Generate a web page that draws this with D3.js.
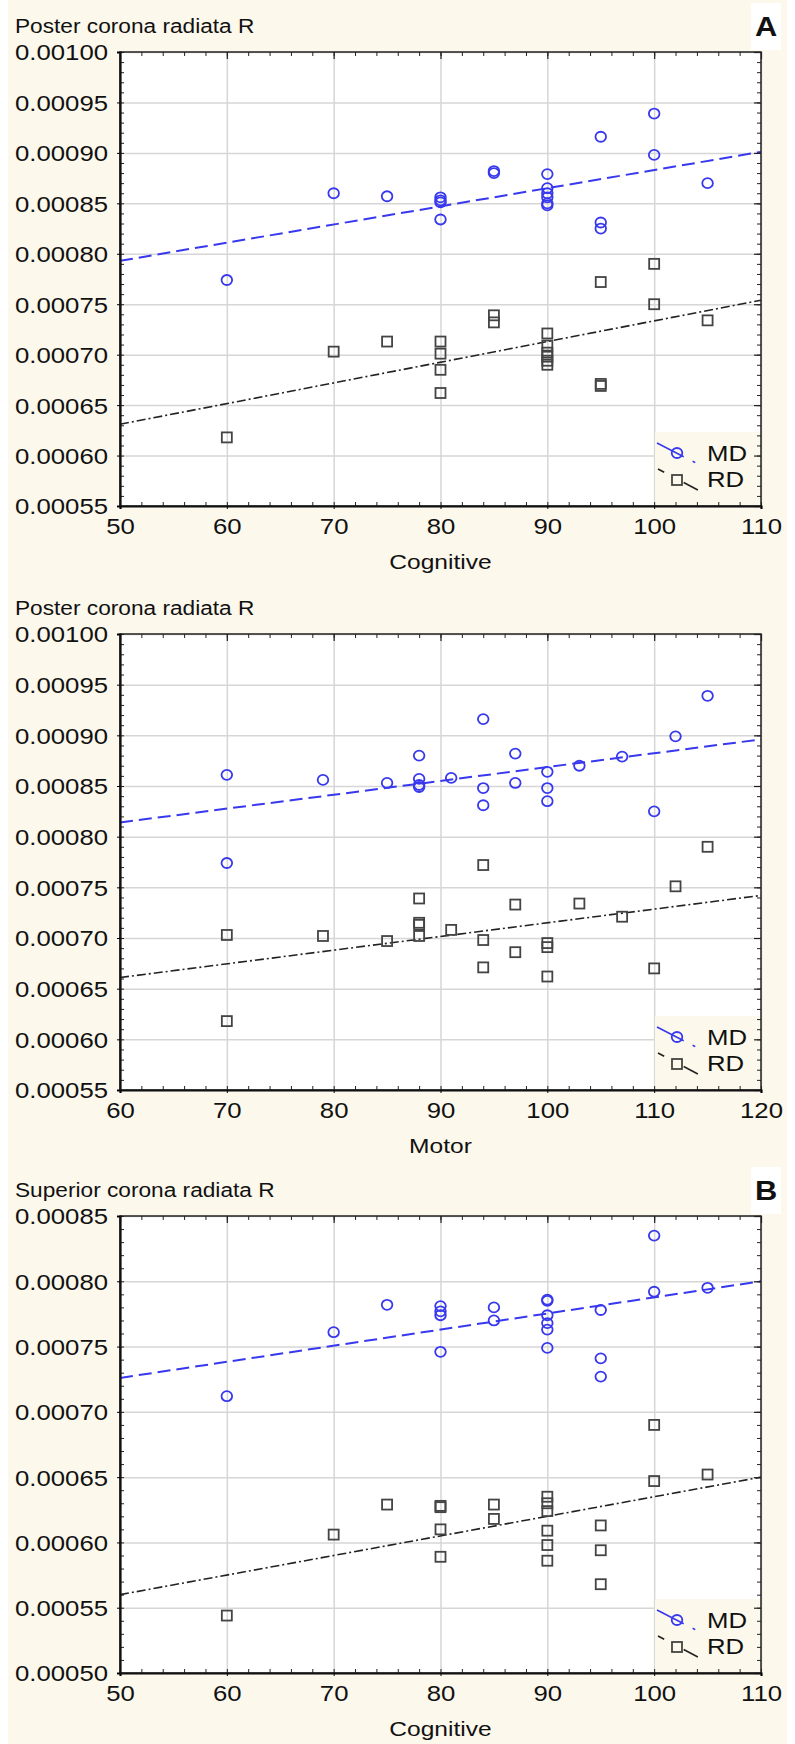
<!DOCTYPE html>
<html>
<head>
<meta charset="utf-8">
<script src="https://cdn.jsdelivr.net/npm/d3@7"></script>
<style>
  body { margin: 0; background: #fff; }
  svg { display: block; font-family: "Liberation Sans", Arial, sans-serif; }
</style>
</head>
<body>
<script>
// data
var cogX = [60, 70, 75, 80, 80, 80, 80, 85, 85, 90, 90, 90, 90, 90, 90, 95, 95, 95, 100, 100, 105];
var postCogMD = [0.000774, 0.000860, 0.000857, 0.000856, 0.000853, 0.000851, 0.000834, 0.000882, 0.000880,
  0.000879, 0.000865, 0.000860, 0.000856, 0.000850, 0.000848, 0.000916, 0.000831, 0.000825, 0.000939, 0.000898, 0.000870];
var postCogRD = [0.000618, 0.000703, 0.000713, 0.000713, 0.000701, 0.000685, 0.000662, 0.000739, 0.000732,
  0.000721, 0.000709, 0.000702, 0.000698, 0.000694, 0.000690, 0.000772, 0.000671, 0.000669, 0.000790, 0.000750, 0.000734];
var postCogFitX = [50, 110];
var postCogMDFit = [0.000793, 0.000901];
var postCogRDFit = [0.000631, 0.000754];

var motorX = [70, 70, 79, 85, 88, 88, 88, 88, 91, 94, 94, 94, 97, 97, 100, 100, 100, 103, 107, 110, 112, 115];
var postMotMD = [0.000861, 0.000774, 0.000856, 0.000853, 0.000880, 0.000857, 0.000851, 0.000849, 0.000858, 0.000916, 0.000848,
  0.000831, 0.000882, 0.000853, 0.000864, 0.000848, 0.000835, 0.000870, 0.000879, 0.000825, 0.000899, 0.000939];
var postMotRD = [0.000703, 0.000618, 0.000702, 0.000697, 0.000739, 0.000715, 0.000713, 0.000702, 0.000708, 0.000772, 0.000698,
  0.000671, 0.000733, 0.000686, 0.000695, 0.000691, 0.000662, 0.000734, 0.000721, 0.000670, 0.000751, 0.000790];
var postMotFitX = [60, 120];
var postMotMDFit = [0.000814, 0.000896];
var postMotRDFit = [0.000661, 0.000742];

var supCogMD = [0.000712, 0.000761, 0.000782, 0.000781, 0.000777, 0.000774, 0.000746, 0.000780, 0.000770,
  0.000786, 0.000785, 0.000774, 0.000768, 0.000763, 0.000749, 0.000778, 0.000741, 0.000727, 0.000835, 0.000792, 0.000795];
var supCogRD = [0.000544, 0.000606, 0.000629, 0.000628, 0.000627, 0.000610, 0.000589, 0.000629, 0.000618,
  0.000635, 0.000630, 0.000624, 0.000609, 0.000598, 0.000586, 0.000613, 0.000594, 0.000568, 0.000690, 0.000647, 0.000652];
var supCogFitX = [50, 110];
var supCogMDFit = [0.000726, 0.000800];
var supCogRDFit = [0.000560, 0.000650];

var legendNames = ["MD", "RD"];

var W = 795, H = 1744;
var left = 120, right = 761;
var stretch = 1.17;   // text in the source looks horizontally stretched
var mdColor = "#3838ee", rdColor = "#444";

var svg = d3.select("body").append("svg")
    .attr("width", W)
    .attr("height", H);

// cream page
svg.append("rect")
    .attr("x", 8).attr("y", 0)
    .attr("width", 779).attr("height", H)
    .attr("fill", "#fcf8ec");

function sText(g, x, y, str, size, anchor, weight, sx) {
  return g.append("text")
      .attr("transform", "translate(" + x + "," + y + ") scale(" + (sx || stretch) + ",1)")
      .attr("text-anchor", anchor || "start")
      .attr("font-size", size)
      .attr("font-weight", weight || "normal")
      .attr("fill", "#111")
      .text(str);
}

function panel(cfg) {
  var top = cfg.top, bottom = cfg.bottom;
  var g = svg.append("g");
  var x = d3.scaleLinear().domain(cfg.xDomain).range([left, right]);
  var y = d3.scaleLinear().domain(cfg.yDomain).range([bottom, top]);
  var xMajor = d3.range(cfg.xDomain[0], cfg.xDomain[1] + 0.1, 10);
  var xMinor = d3.range(cfg.xDomain[0], cfg.xDomain[1] + 0.1, 2);
  var yMajor = d3.range(0, 10).map(function(i) { return +(cfg.yDomain[0] + i * 0.00005).toFixed(6); })
      .filter(function(v) { return v <= cfg.yDomain[1] + 1e-9; });
  var yMinor = d3.range(0, 50).map(function(i) { return +(cfg.yDomain[0] + i * 0.00001).toFixed(6); })
      .filter(function(v) { return v <= cfg.yDomain[1] + 1e-9; });

  g.append("rect")
      .attr("x", left).attr("y", top)
      .attr("width", right - left).attr("height", bottom - top)
      .attr("fill", "#fff");

  // grid
  var gx = g.append("g").attr("transform", "translate(0," + bottom + ")")
      .call(d3.axisBottom(x).tickValues(xMajor).tickSize(-(bottom - top)).tickFormat(""));
  var gy = g.append("g").attr("transform", "translate(" + left + ",0)")
      .call(d3.axisLeft(y).tickValues(yMajor).tickSize(-(right - left)).tickFormat(""));
  [gx, gy].forEach(function(a) {
    a.select(".domain").remove();
    a.selectAll("line").attr("stroke", "#d6d6d6").attr("stroke-width", 1.5);
  });

  var clipId = "clip" + cfg.id;
  g.append("clipPath").attr("id", clipId).append("rect")
      .attr("x", left).attr("y", top).attr("width", right - left).attr("height", bottom - top);

  // fit lines
  var line = d3.line().x(function(d) { return x(d[0]); }).y(function(d) { return y(d[1]); });
  g.append("path")
      .datum(cfg.fitX.map(function(v, i) { return [v, cfg.rdFit[i]]; }))
      .attr("clip-path", "url(#" + clipId + ")")
      .attr("fill", "none").attr("stroke", "#222").attr("stroke-width", 1.6)
      .attr("stroke-dasharray", "9,3,2,3")
      .attr("d", line);
  g.append("path")
      .datum(cfg.fitX.map(function(v, i) { return [v, cfg.mdFit[i]]; }))
      .attr("clip-path", "url(#" + clipId + ")")
      .attr("fill", "none").attr("stroke", mdColor).attr("stroke-width", 2)
      .attr("stroke-dasharray", "13,6")
      .attr("d", line);

  // points
  g.selectAll(".rd").data(cfg.xs).enter().append("rect")
      .attr("x", function(d) { return x(d) - 5; })
      .attr("y", function(d, i) { return y(cfg.rd[i]) - 5; })
      .attr("width", 10).attr("height", 10)
      .attr("fill", "none").attr("stroke", rdColor).attr("stroke-width", 1.8);
  g.selectAll(".md").data(cfg.xs).enter().append("ellipse")
      .attr("cx", function(d) { return x(d); })
      .attr("cy", function(d, i) { return y(cfg.md[i]); })
      .attr("rx", 5.3).attr("ry", 5)
      .attr("fill", "none").attr("stroke", mdColor).attr("stroke-width", 1.8);

  // legend
  var lg = g.append("g");
  lg.append("rect")
      .attr("x", 655).attr("y", bottom - 74)
      .attr("width", right - 655).attr("height", 74)
      .attr("fill", "#fcf8ec");
  lg.append("line")
      .attr("x1", 657).attr("y1", bottom - 63).attr("x2", 698).attr("y2", bottom - 42)
      .attr("stroke", mdColor).attr("stroke-width", 1.6).attr("stroke-dasharray", "30,10,3");
  lg.append("ellipse").attr("cx", 677).attr("cy", bottom - 53).attr("rx", 5.3).attr("ry", 5)
      .attr("fill", "none").attr("stroke", mdColor).attr("stroke-width", 1.8);
  lg.append("line")
      .attr("x1", 658).attr("y1", bottom - 37).attr("x2", 698).attr("y2", bottom - 16)
      .attr("stroke", "#222").attr("stroke-width", 1.6).attr("stroke-dasharray", "7,22,16");
  lg.append("rect").attr("x", 672).attr("y", bottom - 31).attr("width", 10).attr("height", 10)
      .attr("fill", "none").attr("stroke", rdColor).attr("stroke-width", 1.8);
  sText(lg, 707, bottom - 45, legendNames[0], 22);
  sText(lg, 707, bottom - 19, legendNames[1], 22);

  // minor ticks, all four sides, pointing in
  var minors = [
    [d3.axisBottom(x).tickValues(xMinor), "translate(0," + bottom + ")"],
    [d3.axisTop(x).tickValues(xMinor), "translate(0," + top + ")"],
    [d3.axisLeft(y).tickValues(yMinor), "translate(" + left + ",0)"],
    [d3.axisRight(y).tickValues(yMinor), "translate(" + right + ",0)"]
  ];
  minors.forEach(function(m) {
    var a = g.append("g").attr("transform", m[1]).call(m[0].tickSize(-4).tickFormat(""));
    a.select(".domain").remove();
    a.selectAll("line").attr("stroke", "#222").attr("stroke-width", 1);
  });
  var majors = [
    [d3.axisTop(x).tickValues(xMajor), "translate(0," + top + ")"],
    [d3.axisRight(y).tickValues(yMajor), "translate(" + right + ",0)"]
  ];
  majors.forEach(function(m) {
    var a = g.append("g").attr("transform", m[1]).call(m[0].tickSize(-7).tickFormat(""));
    a.select(".domain").remove();
    a.selectAll("line").attr("stroke", "#222").attr("stroke-width", 1.2);
  });

  // frame
  g.append("rect")
      .attr("x", left).attr("y", top)
      .attr("width", right - left).attr("height", bottom - top)
      .attr("fill", "none").attr("stroke", "#222").attr("stroke-width", 1.5);

  // labelled axes
  var ax = g.append("g").attr("transform", "translate(0," + bottom + ")")
      .call(d3.axisBottom(x).tickValues(xMajor).tickSize(3).tickFormat(d3.format("d")));
  ax.select(".domain").attr("stroke", "#111").attr("stroke-width", 2.2);
  ax.selectAll("text")
      .attr("font-size", 22).attr("font-family", "Liberation Sans, Arial, sans-serif")
      .attr("fill", "#111").attr("x", 0).attr("y", 28).attr("dy", 0)
      .attr("transform", "scale(" + stretch + ",1)");

  var ay = g.append("g").attr("transform", "translate(" + left + ",0)")
      .call(d3.axisLeft(y).tickValues(yMajor).tickSize(3).tickFormat(d3.format(".5f")));
  ay.select(".domain").attr("stroke", "#111").attr("stroke-width", 2.2);
  ay.selectAll("text")
      .attr("font-size", 22).attr("font-family", "Liberation Sans, Arial, sans-serif")
      .attr("fill", "#111").attr("x", -12 / stretch).attr("dy", "0.36em")
      .attr("transform", "scale(" + stretch + ",1)");

  // titles
  sText(g, 15, top - 19, cfg.title, 21, "start", "normal", 1.08);
  sText(g, (left + right) / 2, bottom + 63, cfg.xLabel, 21, "middle");

  if (cfg.letter) {
    g.append("rect")
        .attr("x", 751).attr("y", top - 49)
        .attr("width", 30).attr("height", 47)
        .attr("fill", "#fff");
    sText(g, 766, top - 16, cfg.letter, 28, "middle", "bold", 1.1);
  }
}

panel({
  id: 1, top: 52, bottom: 506,
  xDomain: [50, 110], yDomain: [0.00055, 0.00100],
  xs: cogX, md: postCogMD, rd: postCogRD,
  fitX: postCogFitX, mdFit: postCogMDFit, rdFit: postCogRDFit,
  title: "Poster corona radiata R", xLabel: "Cognitive", letter: "A"
});

panel({
  id: 2, top: 634, bottom: 1090,
  xDomain: [60, 120], yDomain: [0.00055, 0.00100],
  xs: motorX, md: postMotMD, rd: postMotRD,
  fitX: postMotFitX, mdFit: postMotMDFit, rdFit: postMotRDFit,
  title: "Poster corona radiata R", xLabel: "Motor"
});

panel({
  id: 3, top: 1216, bottom: 1673,
  xDomain: [50, 110], yDomain: [0.00050, 0.00085],
  xs: cogX, md: supCogMD, rd: supCogRD,
  fitX: supCogFitX, mdFit: supCogMDFit, rdFit: supCogRDFit,
  title: "Superior corona radiata R", xLabel: "Cognitive", letter: "B"
});
</script>
</body>
</html>
